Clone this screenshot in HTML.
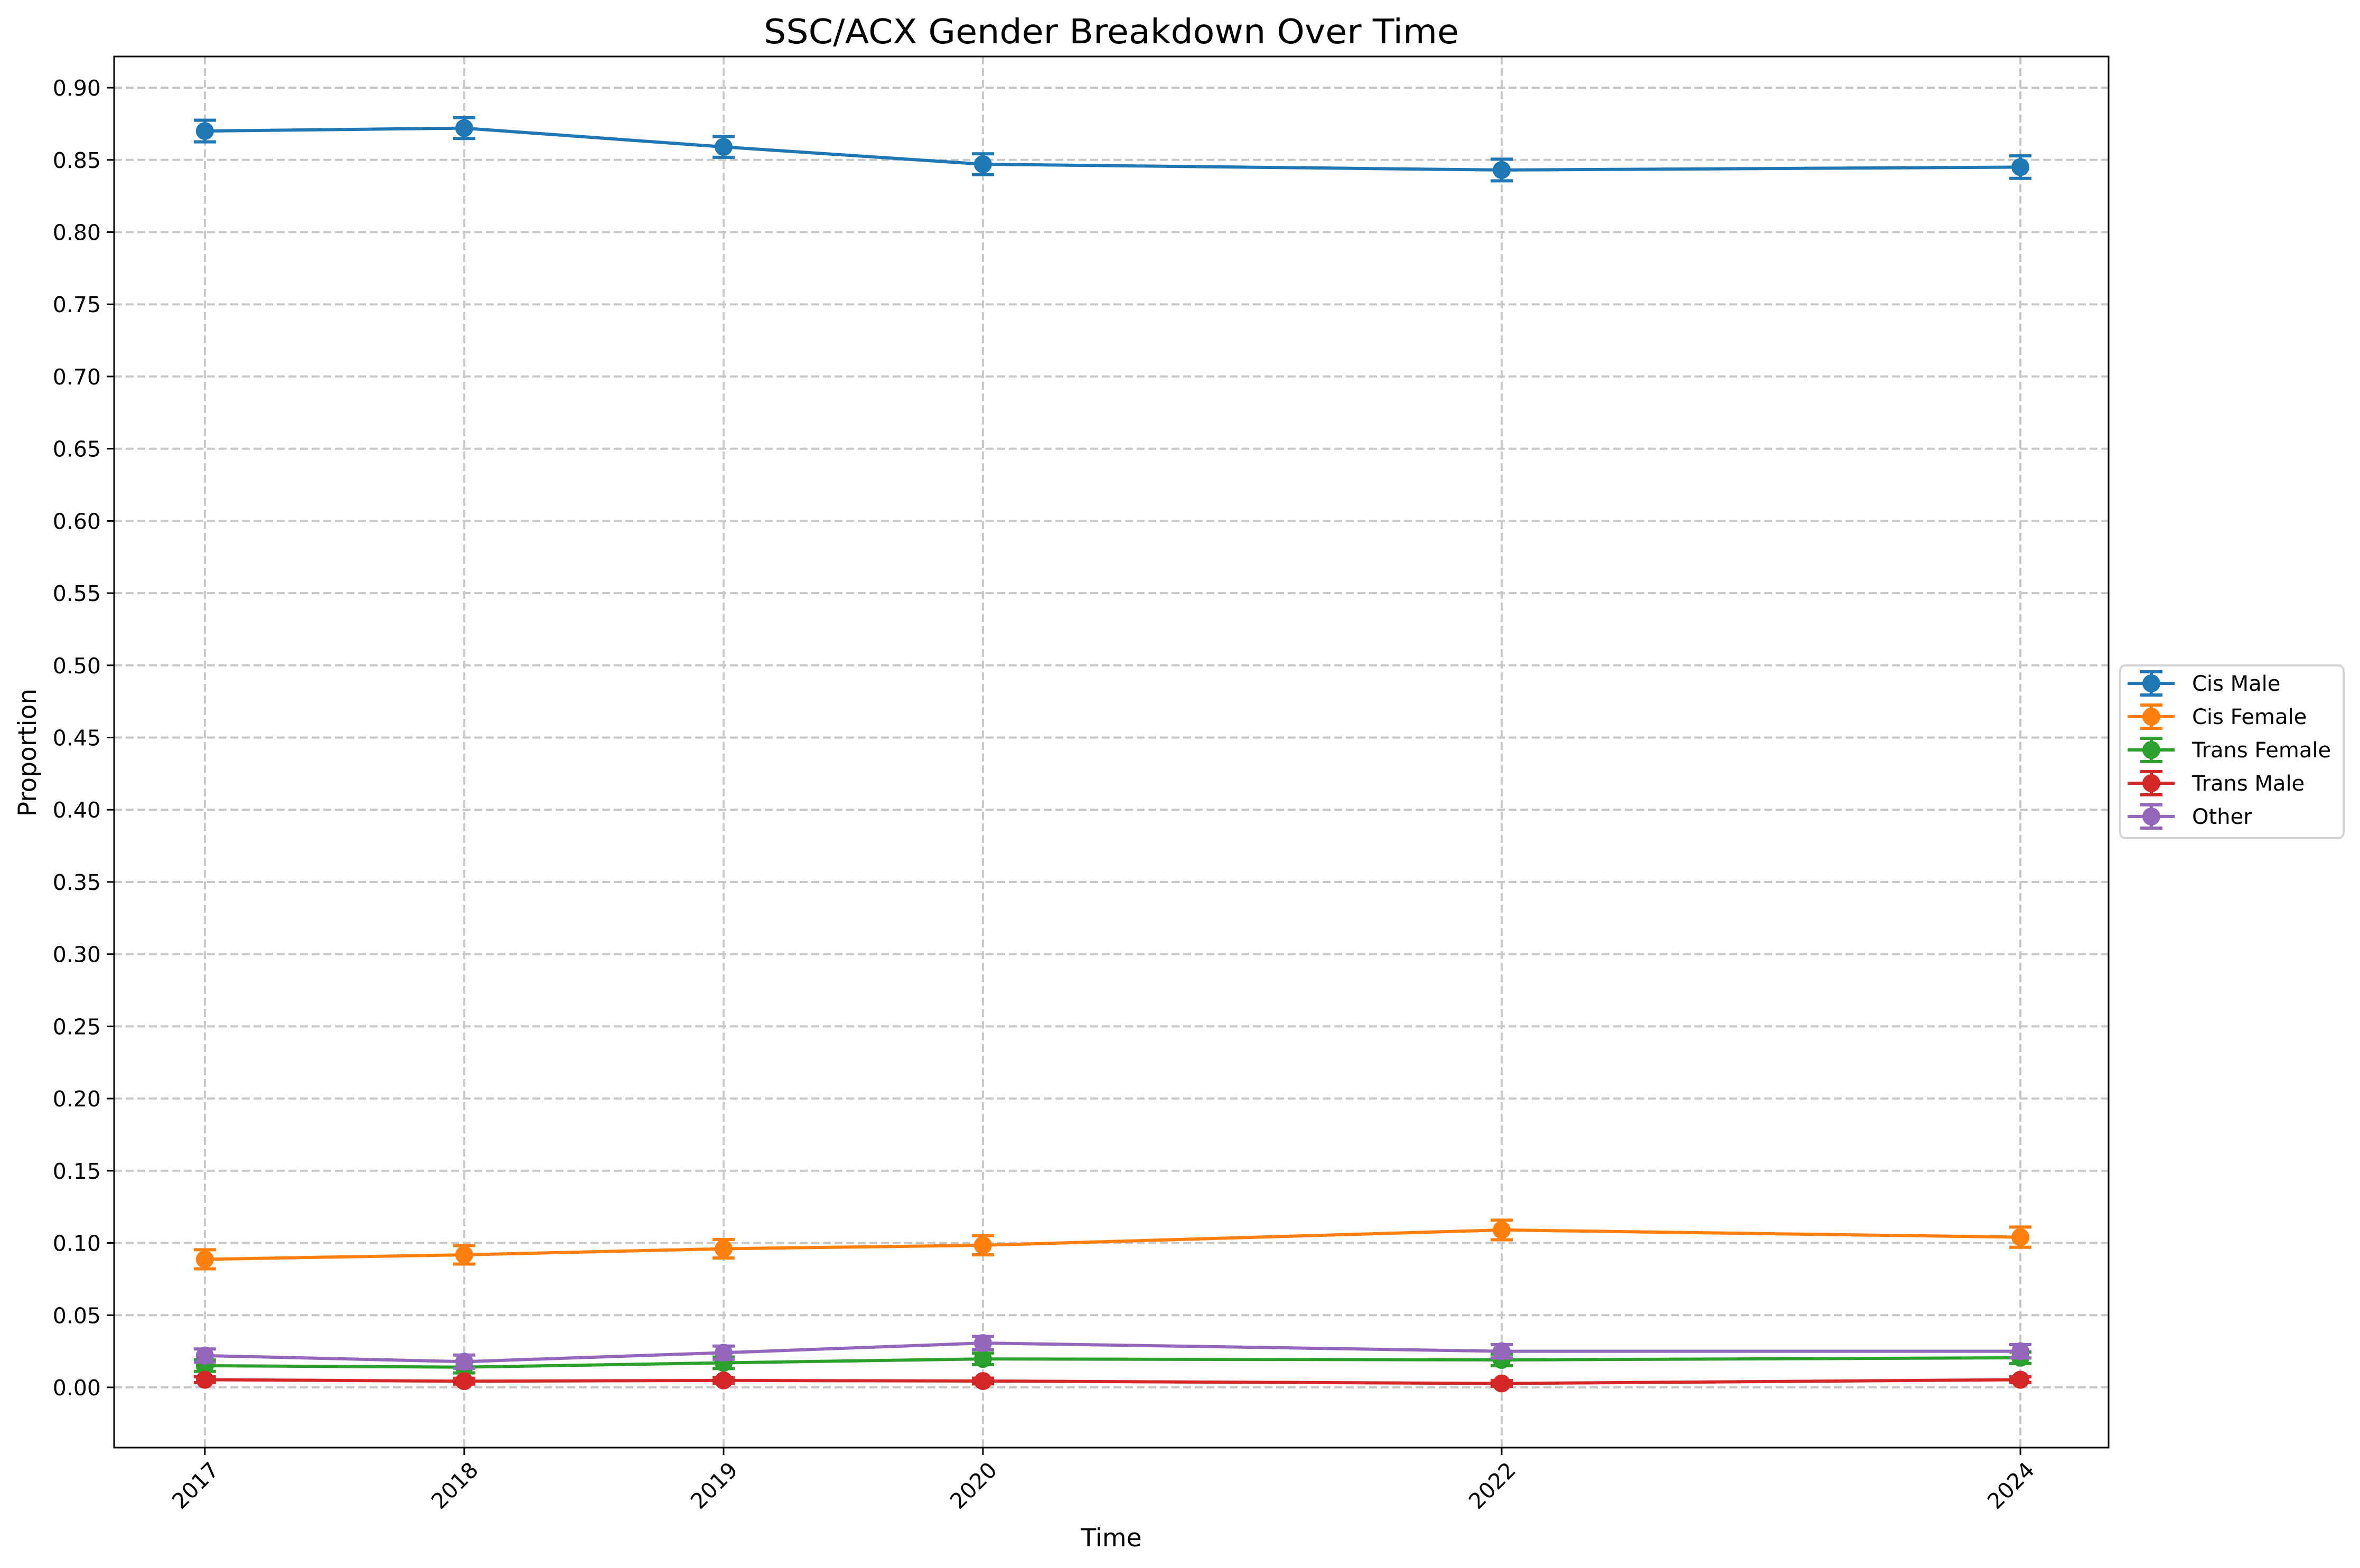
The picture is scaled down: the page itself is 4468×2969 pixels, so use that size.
<!DOCTYPE html>
<html><head><meta charset="utf-8"><style>html,body{margin:0;padding:0;background:#fff}svg{display:block}</style></head>
<body>
<svg id="chart" xmlns="http://www.w3.org/2000/svg" width="4468" height="2969" viewBox="0 0 4468 2969" font-family="DejaVu Sans, Liberation Sans, sans-serif">
<rect width="4468" height="2969" fill="#fff"/>
<g id="grid"></g>
<g id="series"></g>
<g id="axes"></g>
<text x="2104" y="82" font-size="64" text-anchor="middle" textLength="1316" lengthAdjust="spacingAndGlyphs">SSC/ACX Gender Breakdown Over Time</text>
<text x="2104" y="2928" font-size="47" text-anchor="middle">Time</text>
<text x="0" y="0" font-size="47" text-anchor="middle" transform="translate(68,1425) rotate(-90)">Proportion</text>
<g id="legend"></g>
</svg>
<script>
const years = [2017, 2018, 2019, 2020, 2022, 2024];
const seriesNames = ["Cis Male", "Cis Female", "Trans Female", "Trans Male", "Other"];
const colors = ["#1f77b4", "#ff7f0e", "#2ca02c", "#d62728", "#9467bd"];
const cisMale = [0.870, 0.872, 0.859, 0.847, 0.843, 0.845];
const cisFemale = [0.0887, 0.0918, 0.096, 0.0984, 0.109, 0.104];
const transFemale = [0.015, 0.014, 0.017, 0.0197, 0.019, 0.0205];
const transMale = [0.0053, 0.0043, 0.0048, 0.0044, 0.0027, 0.0053];
const other = [0.022, 0.0178, 0.024, 0.0307, 0.025, 0.025];
const cisMaleErr = [0.0075, 0.0072, 0.0072, 0.0072, 0.0075, 0.0078];
const cisFemaleErr = [0.0066, 0.0064, 0.0064, 0.0066, 0.0068, 0.0070];
const transFemaleErr = [0.004, 0.004, 0.004, 0.004, 0.004, 0.004];
const transMaleErr = [0.002, 0.002, 0.002, 0.002, 0.002, 0.002];
const otherErr = [0.0046, 0.0046, 0.0046, 0.0046, 0.0046, 0.0046];
const yTicks = [0,0.05,0.10,0.15,0.20,0.25,0.30,0.35,0.40,0.45,0.50,0.55,0.60,0.65,0.70,0.75,0.80,0.85,0.90];
const yTickLabels = ["0.00","0.05","0.10","0.15","0.20","0.25","0.30","0.35","0.40","0.45","0.50","0.55","0.60","0.65","0.70","0.75","0.80","0.85","0.90"];

const allVals=[cisMale,cisFemale,transFemale,transMale,other];
const allErr=[cisMaleErr,cisFemaleErr,transFemaleErr,transMaleErr,otherErr];
const L=216,R=3992,T=107,B=2741;
const xMin=2016.65,xMax=2024.34,yMin=-0.0417,yMax=0.9216;
const xs=v=>L+(v-xMin)/(xMax-xMin)*(R-L);
const ys=v=>B-(v-yMin)/(yMax-yMin)*(B-T);
const NS="http://www.w3.org/2000/svg";
function mk(tag,attrs,parent){const e=document.createElementNS(NS,tag);for(const k in attrs)e.setAttribute(k,attrs[k]);parent.appendChild(e);return e;}
const grid=document.getElementById('grid'),axes=document.getElementById('axes'),ser=document.getElementById('series'),leg=document.getElementById('legend');
yTicks.forEach((t,i)=>{
  const y=ys(t);
  const g=mk('line',{x1:L,x2:R,y1:y,y2:y,stroke:'#c8c8c8','stroke-width':4,'stroke-dasharray':'15,7'},grid);
  
  
  const tk=mk('line',{x1:L-14,x2:L,y1:y,y2:y,stroke:'#000','stroke-width':3},axes);
  
  
  const tx=mk('text',{x:L-25,y:y+15,'font-size':41,'text-anchor':'end'},axes);
  
  
  tx.textContent=yTickLabels[i];
});
years.forEach(yr=>{
  const x=xs(yr);
  const g=mk('line',{x1:x,x2:x,y1:T,y2:B,stroke:'#c8c8c8','stroke-width':4,'stroke-dasharray':'15,7'},grid);
  
  
  const tk=mk('line',{x1:x,x2:x,y1:B,y2:B+14,stroke:'#000','stroke-width':3},axes);
  
  
  const tx=mk('text',{x:0,y:0,'font-size':41,'text-anchor':'middle',transform:`translate(${x-8},${B+82}) rotate(-45)`},axes);
  
  
  tx.textContent=yr;
});
const fr=mk('rect',{x:L,y:T,width:R-L,height:B-T,fill:'none',stroke:'#000','stroke-width':3},axes);


function marker(parent,x,y,c,e){
  mk('line',{x1:x,x2:x,y1:y-e,y2:y+e,stroke:c,'stroke-width':6},parent);
  mk('line',{x1:x-21,x2:x+21,y1:y-e,y2:y-e,stroke:c,'stroke-width':6},parent);
  mk('line',{x1:x-21,x2:x+21,y1:y+e,y2:y+e,stroke:c,'stroke-width':6},parent);
  mk('ellipse',{cx:x,cy:y,rx:17,ry:17,fill:c},parent);
}
allVals.forEach((vals,si)=>{
  const g=mk('g',{},ser);
  
  
  const pts=vals.map((v,i)=>xs(years[i])+','+ys(v)).join(' ');
  const pl=mk('polyline',{points:pts,fill:'none',stroke:colors[si],'stroke-width':6},g);
  
  
  vals.forEach((v,i)=>{
    const pg=mk('g',{},g);
    
    
    const e=ys(v-allErr[si][i])-ys(v);
    marker(pg,xs(years[i]),ys(v),colors[si],e);
  });
});
const lb=mk('rect',{x:4014,y:1260,width:423,height:327,rx:10,fill:'#fff',stroke:'#d5d5d5','stroke-width':4},leg);


seriesNames.forEach((n,i)=>{
  const y=1294+i*63;
  const g=mk('g',{},leg);
  
  
  mk('line',{x1:4028,x2:4117,y1:y,y2:y,stroke:colors[i],'stroke-width':6},g);
  marker(g,4073,y,colors[i],22);
  const t=mk('text',{x:4150,y:y+14,'font-size':40},g);
  
  
  t.textContent=n;
});
</script>
</body></html>
